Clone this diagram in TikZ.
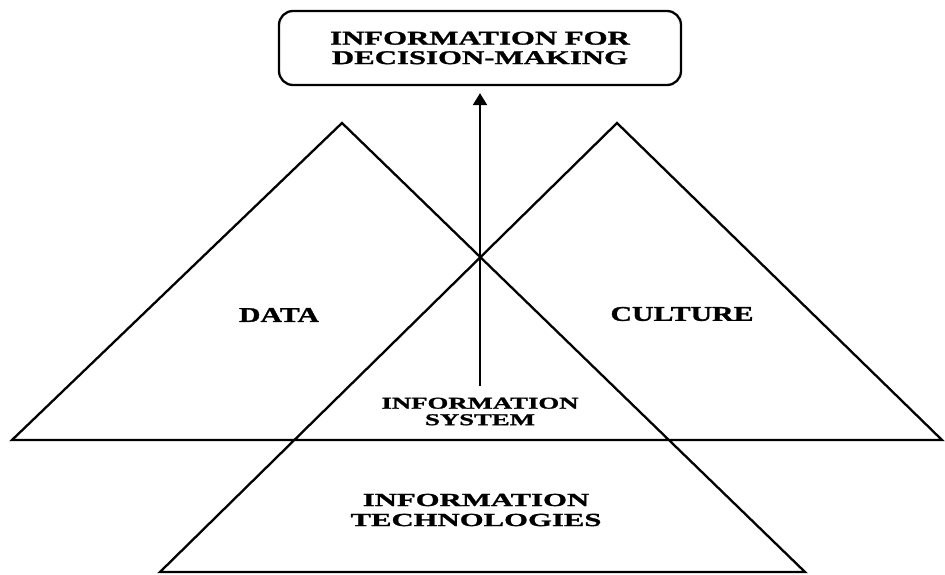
\documentclass[tikz,border=0pt]{standalone}
\usepackage{fontspec}
\setmainfont{Liberation Serif}
\newfontfamily\wfa[FakeStretch=1.58,FakeBold=1.4]{Liberation Serif}
\newfontfamily\wfb[FakeStretch=1.42,FakeBold=1.4]{Liberation Serif}
\newfontfamily\wfc[FakeStretch=1.62,FakeBold=1.4]{Liberation Serif}
\newfontfamily\wfd[FakeStretch=1.66,FakeBold=1.4]{Liberation Serif}
\usetikzlibrary{arrows.meta}
\begin{document}
\begin{tikzpicture}[x=1pt,y=-1pt,line width=2.3pt,
  lbl/.style={align=center,inner sep=0pt},
  topbox/.style={draw,rounded corners=14pt,minimum width=402pt,minimum height=74pt,inner sep=0pt,align=center,
    font=\wfa\bfseries\fontsize{19.5}{19.5}\selectfont},
  mainlbl/.style={lbl,font=\wfb\bfseries\fontsize{21}{20}\selectfont},
  islbl/.style={lbl,font=\wfc\bfseries\fontsize{16.5}{16.5}\selectfont},
  itlbl/.style={lbl,font=\wfd\bfseries\fontsize{18.5}{20}\selectfont},
  uparrow/.style={-{Triangle[width=14pt,length=12pt]},line width=2.3pt}]
\useasboundingbox (0,0) rectangle (945,575);
% triangles and base line
\draw[line join=miter] (12,440) -- (342,123) -- (805,572) -- (160,572) -- (617,123) -- (942,440) -- cycle;
% labels
\node[topbox] (top) at (480,48) {INFORMATION FOR\\DECISION-MAKING};
\node[mainlbl] (data) at (279,315) {DATA};
\node[mainlbl] (culture) at (682,314) {CULTURE};
\node[islbl] (is) at (480,411.5) {INFORMATION\\SYSTEM};
\node[itlbl] (it) at (476,510) {INFORMATION\\TECHNOLOGIES};
% arrow
\draw[uparrow,shorten <=11pt,shorten >=7pt] (is.north) -- (top.south);
\end{tikzpicture}
\end{document}
